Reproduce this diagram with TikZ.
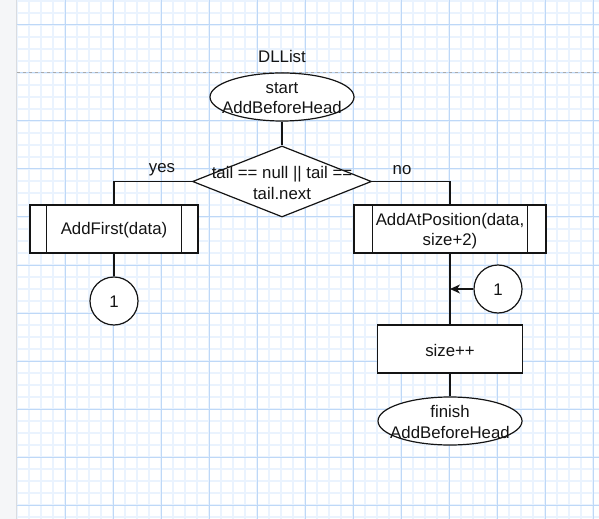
\documentclass[tikz,border=0pt]{standalone}
\usepackage{fontspec}
\setmainfont{Liberation Sans}
\usetikzlibrary{shapes.geometric,arrows.meta}
\definecolor{minorgrid}{RGB}{234,243,254}
\definecolor{majorgrid}{RGB}{190,216,247}
\definecolor{sidebar}{RGB}{245,246,248}
\definecolor{sideedge}{RGB}{218,220,224}
\definecolor{pageline}{RGB}{170,170,170}
\definecolor{ink}{RGB}{20,20,20}
\tikzset{
  txt/.style={font=\fontsize{16.8bp}{20.2bp}\selectfont, text=ink, align=center, inner sep=0pt},
  shp/.style={draw=ink, line width=1.2bp, fill=white, inner sep=0pt},
  term/.style={shp, ellipse, minimum width=144bp, minimum height=48bp},
  proc/.style={shp, rectangle, minimum height=48bp},
  conn/.style={shp, circle, minimum size=48bp},
  link/.style={draw=ink, line width=1.2bp},
  sub/.style={draw=ink, line width=1.2bp}
}
\begin{document}
\begin{tikzpicture}[x=1bp,y=-1bp]
\useasboundingbox (0,0) rectangle (599,519);
\fill[white] (0,0) rectangle (599,519);
% grid
\foreach \i in {0,...,48} {\draw[minorgrid, line width=1.2bp] (17+12*\i,0) -- (17+12*\i,519);}
\foreach \j in {0,...,43} {\draw[minorgrid, line width=1.2bp] (17,1+12*\j) -- (599,1+12*\j);}
\foreach \i in {1,...,12} {\draw[majorgrid, line width=1bp] (17+48*\i,0) -- (17+48*\i,519);}
\foreach \j in {0,...,10} {\draw[majorgrid, line width=1bp] (17,25+48*\j) -- (599,25+48*\j);}
\draw[pageline, line width=1bp, dash pattern=on 3bp off 3bp] (17,73) -- (599,73);
% side strip
\fill[sidebar] (0,0) rectangle (16,519);
\draw[sideedge, line width=1.5bp] (16.5,0) -- (16.5,519);

% nodes
\node[txt] (title) at (282,56) {DLList};
\node[term] (start) at (282,97) {};
\node[txt] (starttxt) at (282,98) {start\\AddBeforeHead};
\node[shp, diamond, minimum width=179bp, minimum height=71bp] (cond) at (282,181.5) {};
\node[txt] (condtxt) at (282,183) {tail == null || tail ==\\tail.next};

\node[proc, minimum width=168bp] (af) at (114,229) {};
\node[txt] (aftxt) at (114,230) {AddFirst(data)};
\draw[sub] ([xshift=16.8bp]af.north west) -- ([xshift=16.8bp]af.south west);
\draw[sub] ([xshift=-16.8bp]af.north east) -- ([xshift=-16.8bp]af.south east);

\node[conn] (c1) at (114,301) {};
\node[txt] (c1txt) at (114,302) {1};

\node[proc, minimum width=192bp] (ap) at (450,229) {};
\node[txt] (aptxt) at (450,231) {AddAtPosition(data,\\size+2)};
\draw[sub] ([xshift=19.2bp]ap.north west) -- ([xshift=19.2bp]ap.south west);
\draw[sub] ([xshift=-19.2bp]ap.north east) -- ([xshift=-19.2bp]ap.south east);

\node[conn] (c2) at (498,289) {};
\node[txt] (c2txt) at (498,290) {1};

\node[proc, minimum width=145bp] (inc) at (450,349) {};
\node[txt] (inctxt) at (450,350) {size++};

\node[term] (finish) at (450,421) {};
\node[txt] (finishtxt) at (450,422) {finish\\AddBeforeHead};

\node[txt] (yes) at (162,170) {yes};
\node[txt] (no) at (402,170) {no};

% connectors
\draw[link] (start.south) -- (cond.north);
\draw[link] (cond.west) -| (af.north);
\draw[link] (cond.east) -| (ap.north);
\draw[link] (af.south) -- (c1.north);
\draw[link] (ap.south) -- (inc.north);
\draw[link] (inc.south) -- (finish.north);
\coordinate (join) at (ap.south |- c2.west);
\draw[link, -{Stealth[length=10bp,width=9bp,inset=3bp]}] (c2.west) -- (join);
\end{tikzpicture}
\end{document}
